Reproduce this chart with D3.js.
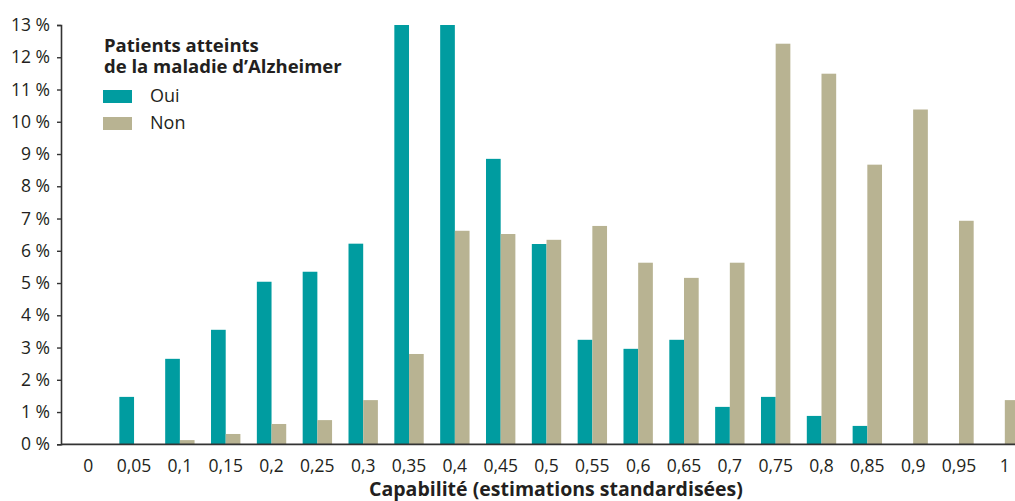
<!DOCTYPE html>
<html>
<head>
<meta charset="utf-8">
<script src="https://cdn.jsdelivr.net/npm/d3@7"></script>
<style>
  body { margin: 0; background: #fff; }
  text { font-family: "Open Sans", sans-serif; fill: #231f20; }
</style>
</head>
<body>
<div id="chart"></div>
<script>
// categories on the x axis
const categories = ["0", "0,05", "0,1", "0,15", "0,2", "0,25", "0,3", "0,35", "0,4", "0,45", "0,5",
                    "0,55", "0,6", "0,65", "0,7", "0,75", "0,8", "0,85", "0,9", "0,95", "1"];
// % of patients, Alzheimer = oui
const ouiValues = [0, 1.47, 2.65, 3.55, 5.04, 5.35, 6.22, 13, 13, 8.85, 6.21,
                   3.24, 2.96, 3.24, 1.16, 1.47, 0.88, 0.57, 0, 0, 0];
// % of patients, Alzheimer = non
const nonValues = [0, 0, 0.13, 0.32, 0.63, 0.75, 1.37, 2.8, 6.62, 6.52, 6.34,
                   6.77, 5.63, 5.16, 5.63, 12.42, 11.49, 8.67, 10.38, 6.93, 1.37];
const yTicks = d3.range(0, 14);
const seriesNames = ["Oui", "Non"];
const colors = {"Oui": "#009ca0", "Non": "#b8b392"};

const W = 1015, H = 501;
const marginLeft = 61, plotTop = 25, plotBottom = 444.3;

const svg = d3.select("#chart").append("svg")
    .attr("width", W)
    .attr("height", H);

const x0 = d3.scaleBand()
    .domain(categories)
    .range([65.3, 65.3 + 21 * 45.83])
    .padding(0);
const x1 = d3.scaleBand()
    .domain(seriesNames)
    .range([0, x0.bandwidth()])
    .paddingInner(0)
    .paddingOuter(0.56);
const y = d3.scaleLinear()
    .domain([0, 13])
    .range([plotBottom, plotTop]);

let rows = categories.map((c, i) => ({cat: c, Oui: ouiValues[i], Non: nonValues[i]}));

// bars
const grp = svg.append("g").selectAll("g")
    .data(rows)
    .enter()
    .append("g")
        .attr("transform", d => `translate(${x0(d.cat)},0)`);
grp.selectAll("rect")
    .data(d => seriesNames.map(s => ({key: s, value: d[s]})))
    .enter()
    .append("rect")
        .attr("x", d => x1(d.key))
        .attr("y", d => y(d.value))
        .attr("width", x1.bandwidth())
        .attr("height", d => plotBottom - y(d.value))
        .attr("fill", d => colors[d.key]);

// y axis
const yAxis = svg.append("g")
    .attr("transform", `translate(${marginLeft},0)`)
    .call(d3.axisLeft(y).tickValues(yTicks).tickSize(4).tickPadding(7).tickFormat(d => d + " %"));
yAxis.select(".domain").attr("stroke", "#333").attr("stroke-width", 1.6);
yAxis.selectAll(".tick line").attr("stroke", "#333").attr("stroke-width", 1.4);
yAxis.selectAll("text").style("font-size", "17.5px").attr("fill", "#231f20");

// x axis
const xAxis = svg.append("g")
    .attr("transform", `translate(0,${plotBottom})`)
    .call(d3.axisBottom(x0).tickSize(0).tickPadding(15));
xAxis.select(".domain").remove();
xAxis.selectAll("text").style("font-size", "17.5px").attr("fill", "#231f20");
svg.append("line")
    .attr("x1", marginLeft).attr("x2", W)
    .attr("y1", plotBottom).attr("y2", plotBottom)
    .attr("stroke", "#333")
    .attr("stroke-width", 1.8);

// x axis title
svg.append("text")
    .attr("x", 556)
    .attr("y", 496)
    .attr("text-anchor", "middle")
    .style("font-size", "19.5px")
    .style("font-weight", "bold")
    .text("Capabilité (estimations standardisées)");

// legend
const legend = svg.append("g");
legend.append("text")
    .attr("x", 104).attr("y", 52)
    .style("font-size", "18.5px").style("font-weight", "bold")
    .text("Patients atteints");
legend.append("text")
    .attr("x", 104).attr("y", 73)
    .style("font-size", "18.5px").style("font-weight", "bold")
    .text("de la maladie d’Alzheimer");
seriesNames.forEach((s, i) => {
    legend.append("rect")
        .attr("x", 103).attr("y", 90 + i * 27)
        .attr("width", 29).attr("height", 13)
        .attr("fill", colors[s]);
    legend.append("text")
        .attr("x", 150).attr("y", 102 + i * 26.5)
        .style("font-size", "18px")
        .text(s);
});
</script>
</body>
</html>
